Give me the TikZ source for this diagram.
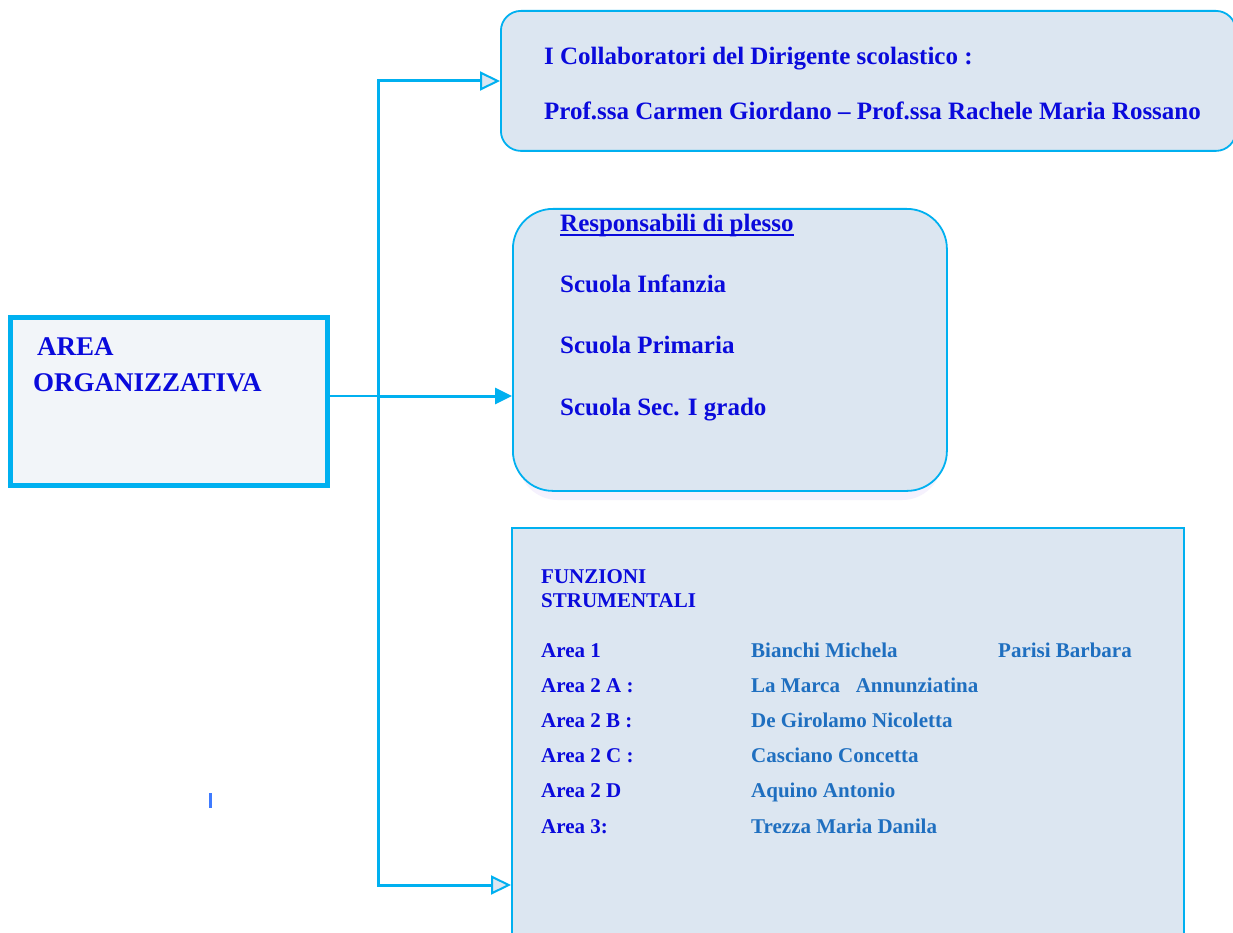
\documentclass[tikz,border=0pt]{standalone}
\usepackage{fontspec}
\setmainfont{Liberation Serif}
\usetikzlibrary{arrows.meta}
\definecolor{cyanline}{HTML}{00B0F0}
\definecolor{boxfill}{HTML}{DCE6F1}
\definecolor{areafill}{HTML}{F2F5F9}
\definecolor{txtblue}{HTML}{0A0ADC}
\definecolor{namecol}{HTML}{1F6FC0}
\definecolor{shadowcol}{HTML}{F5F1FD}
\definecolor{markcol}{HTML}{3F7BFF}
\begin{document}
\begin{tikzpicture}[x=1pt,y=-1pt,
  boxshape/.style={draw=cyanline, fill=boxfill, line width=1.8pt, anchor=north west, inner sep=0pt},
  bigtxt/.style={anchor=base west, inner sep=0pt, text=txtblue, font=\bfseries\fontsize{25}{30}\selectfont},
  areatxt/.style={anchor=base west, inner sep=0pt, text=txtblue, font=\bfseries\fontsize{27}{32}\selectfont},
  fstxt/.style={anchor=base west, inner sep=0pt, text=txtblue, font=\bfseries\fontsize{21}{25}\selectfont},
  nmtxt/.style={fstxt, text=namecol},
  conn/.style={draw=cyanline, line width=3pt},
  opentip/.style={-{Triangle[length=20pt,width=19pt,fill=boxfill,line width=2pt]}},
  smalltip/.style={-{Triangle[length=17pt,width=16pt,fill=cyanline]}},
]
\useasboundingbox (0,0) rectangle (1233,933);
\fill[white] (0,0) rectangle (1233,933);

% boxes
\node[boxshape, rounded corners=20pt, minimum width=735pt, minimum height=140pt] (b1) at (500,10) {};
\fill[shadowcol, rounded corners=40pt] (518,218) rectangle (942,500);
\node[boxshape, rounded corners=40pt, minimum width=434pt, minimum height=282pt] (b2) at (512,208) {};
\node[boxshape, minimum width=672pt, minimum height=430pt] (b3) at (511,527) {};
\node[draw=cyanline, fill=areafill, line width=5pt, anchor=north west, inner sep=0pt,
      minimum width=317pt, minimum height=168pt] (a) at (8,315) {};

% connectors
\coordinate (ttop) at (378,81);
\coordinate (tbot) at (378,885);
\coordinate (ylvl) at (0,396);
\coordinate (aout) at (a.east |- ylvl);
\coordinate (tmid) at (ttop |- ylvl);
\draw[conn, line cap=rect] (ttop) -- (tbot);
\draw[conn, opentip] (ttop) -- (ttop -| b1.west);
\draw[conn, opentip] (tbot) -- (tbot -| b3.west);
\draw[draw=cyanline, line width=2pt] (aout) -- (tmid);
\draw[draw=cyanline, line width=3pt, smalltip] (tmid) -- (aout -| b2.west);

% AREA text
\node[areatxt] (a1) at (37,355) {AREA};
\node[areatxt] (a2) at (33,391) {ORGANIZZATIVA};

% box 1 text
\node[bigtxt] (c1) at (544,65) {I Collaboratori del Dirigente scolastico :};
\node[bigtxt] (c2) at (544,120) {Prof.ssa Carmen Giordano -- Prof.ssa Rachele Maria Rossano};

% box 2 text
\node[bigtxt] (r0) at (560,232) {Responsabili di plesso};
\draw[txtblue, line width=1.3pt] ([yshift=-3pt]r0.base west) -- ([yshift=-3pt]r0.base east);
\node[bigtxt] (r1) at (560,292) {Scuola Infanzia};
\node[bigtxt] (r2) at (560,353) {Scuola Primaria};
\node[bigtxt] (r3) at (560,415) {Scuola Sec. I grado};

% box 3 text
\node[fstxt] (f1) at (541,583) {FUNZIONI};
\node[fstxt] (f2) at (541,607) {STRUMENTALI};
\node[fstxt] (l1) at (541,657) {Area 1};
\node[fstxt] (l2) at (541,692) {Area 2 A :};
\node[fstxt] (l3) at (541,727) {Area 2 B :};
\node[fstxt] (l4) at (541,762) {Area 2 C :};
\node[fstxt] (l5) at (541,797) {Area 2 D};
\node[fstxt] (l6) at (541,833) {Area 3:};
\node[nmtxt] (n1) at (751,657) {Bianchi Michela};
\node[nmtxt] (n1b) at (998,657) {Parisi Barbara};
\node[nmtxt] (n2) at (751,692) {La Marca\ \ \ Annunziatina};
\node[nmtxt] (n3) at (751,727) {De Girolamo Nicoletta};
\node[nmtxt] (n4) at (751,762) {Casciano Concetta};
\node[nmtxt] (n5) at (751,797) {Aquino Antonio};
\node[nmtxt] (n6) at (751,833) {Trezza Maria Danila};

% stray mark
\fill[markcol] (209,793) rectangle (212,808);
\end{tikzpicture}
\end{document}
